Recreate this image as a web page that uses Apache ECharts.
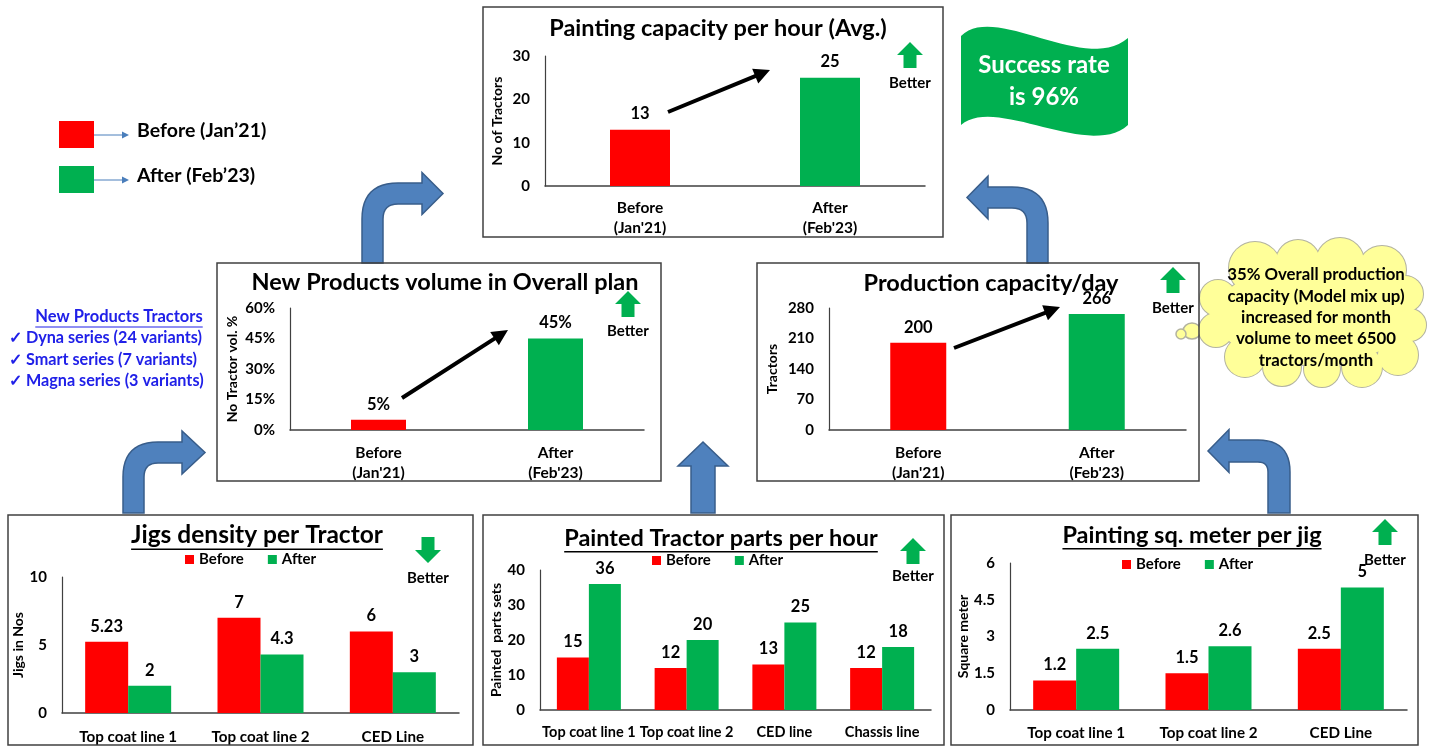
<!DOCTYPE html>
<html><head><meta charset="utf-8">
<script src="https://cdn.jsdelivr.net/npm/echarts@6/dist/echarts.min.js"></script>
<style>html,body{margin:0;padding:0;background:#fff}#c{width:1431px;height:747px}</style>
</head><body><div id="c"></div>
<script>
// ---------- data ----------
const periods = ["Before\n(Jan'21)", "After\n(Feb'23)"];
const paintingCapacity = [13, 25];
const newProductShare = [5, 45];
const productionCapacity = [200, 266];
const jigLines = ['Top coat line 1', 'Top coat line 2', 'CED Line'];
const jigBefore = [5.23, 7, 6];
const jigAfter = [2, 4.3, 3];
const partLines = ['Top coat line 1', 'Top coat line 2', 'CED line', 'Chassis line'];
const partsBefore = [15, 12, 13, 12];
const partsAfter = [36, 20, 25, 18];
const sqmLines = ['Top coat line 1', 'Top coat line 2', 'CED Line'];
const sqmBefore = [1.2, 1.5, 2.5];
const sqmAfter = [2.5, 2.6, 5];
const seriesNames = ['Before', 'After'];
const keyLabels = ['Before (Jan\u201921)', 'After (Feb\u201923)'];
const productTitle = 'New Products Tractors';
const productList = ['Dyna series (24 variants)', 'Smart series (7 variants)', 'Magna series (3 variants)'];
const cloudLines = ['35% Overall production', 'capacity (Model mix up)', 'increased for month', 'volume to meet 6500', 'tractors/month'];
const flagLines = ['Success rate', 'is 96%'];

// ---------- style ----------
const RED = '#ff0000', GREEN = '#00b050', INK = '#000000';
const FONT = 'Lato, "Open Sans", sans-serif';
const BLUE = '#4f81bd', BLUE_EDGE = '#385d8a';

const chart = echarts.init(document.getElementById('c'), null, {renderer: 'canvas'});

const grids = [
  {left: 545, top: 56, width: 380, height: 130},
  {left: 290, top: 308, width: 354, height: 122},
  {left: 829, top: 308, width: 357, height: 122},
  {left: 62, top: 577, width: 397, height: 140},
  {left: 540, top: 570, width: 391, height: 140},
  {left: 1010, top: 563, width: 397, height: 147}
];

function xAx(i, data, margin, size) {
  return {type: 'category', gridIndex: i, data,
    axisTick: {show: false},
    axisLine: {lineStyle: {color: '#404040', width: 1.5}},
    axisLabel: {interval: 0, margin, color: INK, fontFamily: FONT, fontWeight: 'bold', fontSize: size, lineHeight: 20}};
}
function yAx(i, max, interval, name, nameGap, fmt) {
  return {type: 'value', gridIndex: i, min: 0, max, interval,
    splitLine: {show: false}, axisTick: {show: false},
    axisLine: {show: true, lineStyle: {color: '#404040', width: 1.2}},
    axisLabel: {margin: 15, color: INK, fontFamily: FONT, fontWeight: 'bold', fontSize: 15, formatter: fmt || '{value}'},
    name, nameLocation: 'middle', nameRotate: 90, nameGap,
    nameTextStyle: {fontFamily: FONT, fontWeight: 'bold', fontSize: 14, color: INK}};
}
const labelStyle = (fmt) => ({show: true, position: 'top', distance: 7, color: INK, fontFamily: FONT, fontWeight: 'bold', fontSize: 16.5, formatter: fmt || '{c}'});

function pairSeries(i, name, values, barWidth, fmt) {
  return {type: 'bar', name, xAxisIndex: i, yAxisIndex: i, barWidth,
    data: values.map((v, k) => ({value: v, itemStyle: {color: k === 0 ? RED : GREEN}})),
    label: labelStyle(fmt)};
}
function groupSeries(i, before, after, barWidth) {
  return [
    {type: 'bar', name: seriesNames[0], xAxisIndex: i, yAxisIndex: i, barWidth, barGap: '0%', data: before, itemStyle: {color: RED}, label: labelStyle()},
    {type: 'bar', name: seriesNames[1], xAxisIndex: i, yAxisIndex: i, barWidth, barGap: '0%', data: after, itemStyle: {color: GREEN}, label: labelStyle()}
  ];
}

// ---------- graphic helpers ----------
const G = [];
function box(x, y, w, h) { G.push({type: 'rect', shape: {x, y, width: w, height: h}, style: {fill: 'none', stroke: '#404040', lineWidth: 1.5}, z: 10}); }
function text(x, y, t, size, opts) {
  opts = opts || {};
  G.push({type: 'text', x, y, z: 20, style: {text: t, fontFamily: FONT, fontWeight: opts.weight || 'bold', fontSize: size,
    fill: opts.fill || INK, align: opts.align || 'center', verticalAlign: 'middle'}});
}
const mctx = document.createElement('canvas').getContext('2d');
function textWidth(t, size) { mctx.font = 'bold ' + size + 'px ' + FONT; return mctx.measureText(t).width; }
function underlinedTitle(cx, y, t, size) {
  text(cx, y, t, size);
  const w = textWidth(t, size);
  G.push({type: 'line', z: 20, shape: {x1: cx - w / 2, y1: y + size * 0.5 + 2, x2: cx + w / 2, y2: y + size * 0.5 + 2}, style: {stroke: INK, lineWidth: 1.5}});
}
function blackArrow(x1, y1, x2, y2) {
  const L = Math.hypot(x2 - x1, y2 - y1), dx = (x2 - x1) / L, dy = (y2 - y1) / L, nx = -dy, ny = dx;
  const w = 4, hl = 16, hw = 16;
  const bx = x2 - dx * hl, by = y2 - dy * hl;
  G.push({type: 'polygon', z: 20, shape: {points: [
    [x1 + nx * w / 2, y1 + ny * w / 2], [bx + nx * w / 2, by + ny * w / 2], [bx + nx * hw / 2, by + ny * hw / 2], [x2, y2],
    [bx - nx * hw / 2, by - ny * hw / 2], [bx - nx * w / 2, by - ny * w / 2], [x1 - nx * w / 2, y1 - ny * w / 2]]},
    style: {fill: '#000'}});
}
function betterArrow(cx, top, up) {
  const hw = 13, hh = 13, sw = 6.5, H = 26;
  let pts;
  if (up) pts = [[cx, top], [cx + hw, top + hh], [cx + sw, top + hh], [cx + sw, top + H], [cx - sw, top + H], [cx - sw, top + hh], [cx - hw, top + hh]];
  else pts = [[cx, top + H], [cx + hw, top + H - hh], [cx + sw, top + H - hh], [cx + sw, top], [cx - sw, top], [cx - sw, top + H - hh], [cx - hw, top + H - hh]];
  G.push({type: 'polygon', z: 20, shape: {points: pts}, style: {fill: GREEN}});
}
function quad(p0, p1, p2, n) {
  const out = [];
  for (let i = 1; i <= n; i++) { const t = i / n, u = 1 - t;
    out.push([u * u * p0[0] + 2 * u * t * p1[0] + t * t * p2[0], u * u * p0[1] + 2 * u * t * p1[1] + t * t * p2[1]]); }
  return out;
}
function cubic(p0, p1, p2, p3, n) {
  const out = [];
  for (let i = 1; i <= n; i++) { const t = i / n, u = 1 - t;
    out.push([u * u * u * p0[0] + 3 * u * u * t * p1[0] + 3 * u * t * t * p2[0] + t * t * t * p3[0],
              u * u * u * p0[1] + 3 * u * u * t * p1[1] + 3 * u * t * t * p2[1] + t * t * t * p3[1]]); }
  return out;
}
function bentArrow(dir, sx, w, bot, by, R, hb, hh, tip) {
  const r = Math.max(R - w, 3), cy = by + w / 2, s = dir;
  const a = sx, b = sx + s * w;
  let pts = [[a, bot], [a, by + R]];
  pts = pts.concat(quad([a, by + R], [a, by], [a + s * R, by], 12));
  pts.push([hb, by], [hb, cy - hh], [tip, cy], [hb, cy + hh], [hb, by + w], [b + s * r, by + w]);
  pts = pts.concat(quad([b + s * r, by + w], [b, by + w], [b, by + w + r], 8));
  pts.push([b, bot]);
  G.push({type: 'polygon', z: 5, shape: {points: pts}, style: {fill: BLUE, stroke: BLUE_EDGE, lineWidth: 1.5}});
}

// panel frames
box(483, 7, 460, 230);
box(217, 263, 444, 218);
box(757, 263, 442, 218);
box(8, 515, 465, 230);
box(483, 515, 461, 230);
box(951, 515, 467, 230);

// titles
text(718, 28, 'Painting capacity per hour (Avg.)', 23.5);
text(445, 282, 'New Products volume in Overall plan', 23.5);
text(991, 283, 'Production capacity/day', 23.5);
underlinedTitle(257, 535, 'Jigs density per Tractor', 24.5);
underlinedTitle(721, 538, 'Painted Tractor parts per hour', 23.5);
underlinedTitle(1192, 535, 'Painting sq. meter per jig', 23.5);

// trend arrows
blackArrow(668, 112, 770, 70);
blackArrow(402, 398, 508, 330);
blackArrow(954, 348, 1060, 307);

// "Better" markers
[[910, 42, true, 83], [628, 291, true, 331], [1173, 267, true, 308], [428, 537, false, 578], [913, 538, true, 576], [1385, 519, true, 560]]
  .forEach(([cx, top, up, ty]) => { betterArrow(cx, top, up); text(cx, ty, 'Better', 15); });

// flow arrows
bentArrow(1, 362, 21, 263, 183, 36, 422, 21, 443);
bentArrow(-1, 1048, 21, 263, 187, 36, 988, 21.5, 967);
bentArrow(1, 123, 21, 513, 442, 35, 182, 21.5, 205);
bentArrow(-1, 1290, 22, 513, 440, 32, 1229, 21.5, 1208);
G.push({type: 'polygon', z: 5, shape: {points: [[703, 442], [728, 466], [715, 466], [715, 513], [691, 513], [691, 466], [678, 466]]}, style: {fill: BLUE, stroke: BLUE_EDGE, lineWidth: 1.5}});

// key (top-left)
[[RED, 121, 135], [GREEN, 166, 180]].forEach(([c, y, ly], k) => {
  G.push({type: 'rect', z: 20, shape: {x: 59, y, width: 35, height: 27}, style: {fill: c}});
  G.push({type: 'line', z: 20, shape: {x1: 94, y1: ly, x2: 124, y2: ly}, style: {stroke: '#4a7ebb', lineWidth: 1}});
  G.push({type: 'polygon', z: 20, shape: {points: [[129, ly], [122, ly - 3.5], [122, ly + 3.5]]}, style: {fill: '#4a7ebb'}});
  text(137, ly - 4, keyLabels[k], 19.5, {align: 'left'});
});

// product list
const PB = '#2020e8';
text(119, 317, productTitle, 16.5, {fill: PB});
(function () { const w = textWidth(productTitle, 16.5); G.push({type: 'line', z: 20, shape: {x1: 119 - w / 2, y1: 327, x2: 119 + w / 2, y2: 327}, style: {stroke: PB, lineWidth: 1.2}}); })();
productList.forEach((t, k) => text(9, 338 + k * 21.5, '\u2713 ' + t, 16.2, {fill: PB, align: 'left'}));

// flag
(function () {
  let pts = [[961, 36]];
  pts = pts.concat(cubic([961, 36], [995, 2], [1085, 75], [1128, 38], 30));
  pts.push([1128, 125]);
  pts = pts.concat(cubic([1128, 125], [1090, 160], [995, 95], [961, 125], 30));
  G.push({type: 'polygon', z: 5, shape: {points: pts}, style: {fill: GREEN}});
})();
text(1044, 65, flagLines[0], 24, {fill: '#fff'});
text(1044, 97, flagLines[1], 24, {fill: '#fff'});

// cloud
const puffs = [[1255, 268, 26], [1298, 262, 22], [1340, 262, 24], [1382, 270, 24], [1405, 294, 18], [1410, 325, 16], [1398, 355, 20], [1362, 367, 20], [1322, 369, 18], [1282, 367, 19], [1245, 357, 20], [1216, 330, 17], [1218, 298, 18]];
const CF = '#ffff99', CS = '#b3b3a0';
G.push({type: 'ellipse', z: 6, shape: {cx: 1312, cy: 315, rx: 97, ry: 50}, style: {fill: CF, stroke: CS, lineWidth: 2}});
puffs.forEach(([x, y, r]) => G.push({type: 'circle', z: 6, shape: {cx: x, cy: y, r}, style: {fill: CF, stroke: CS, lineWidth: 2}}));
G.push({type: 'ellipse', z: 7, shape: {cx: 1312, cy: 315, rx: 97, ry: 50}, style: {fill: CF}});
puffs.forEach(([x, y, r]) => G.push({type: 'circle', z: 7, shape: {cx: x, cy: y, r}, style: {fill: CF}}));
G.push({type: 'ellipse', z: 6, shape: {cx: 1192, cy: 331, rx: 9, ry: 8}, style: {fill: CF, stroke: CS, lineWidth: 1.5}});
G.push({type: 'ellipse', z: 6, shape: {cx: 1181, cy: 334, rx: 5, ry: 5}, style: {fill: CF, stroke: CS, lineWidth: 1.5}});
cloudLines.forEach((t, k) => text(1316, 275 + k * 21.3, t, 16.8));

// ---------- option ----------
const legendBase = {data: seriesNames, icon: 'rect', itemWidth: 9, itemHeight: 9, itemGap: 24, padding: 0, selectedMode: false,
  textStyle: {fontFamily: FONT, fontSize: 15, fontWeight: 'bold', color: INK}};

chart.setOption({
  animation: false,
  backgroundColor: '#fff',
  grid: grids,
  legend: [
    Object.assign({left: 185, top: 552}, legendBase),
    Object.assign({left: 652, top: 553}, legendBase),
    Object.assign({left: 1122, top: 557}, legendBase)
  ],
  xAxis: [xAx(0, periods, 12, 15.5), xAx(1, periods, 13, 15.5), xAx(2, periods, 13, 15.5), xAx(3, jigLines, 14, 15.2), xAx(4, partLines, 12, 14.5), xAx(5, sqmLines, 13, 15.2)],
  yAxis: [
    yAx(0, 30, 10, 'No of Tractors', 41),
    yAx(1, 60, 15, 'No Tractor vol. %', 51, '{value}%'),
    yAx(2, 280, 70, 'Tractors', 50),
    yAx(3, 10, 5, 'Jigs in Nos', 31),
    yAx(4, 40, 10, 'Painted  parts sets', 36),
    yAx(5, 6, 1.5, 'Square meter', 38)
  ],
  series: [
    pairSeries(0, 'Painting capacity', paintingCapacity, 60),
    pairSeries(1, 'New products share', newProductShare, 55, '{c}%'),
    pairSeries(2, 'Production capacity', productionCapacity, 56),
    ...groupSeries(3, jigBefore, jigAfter, 43),
    ...groupSeries(4, partsBefore, partsAfter, 32),
    ...groupSeries(5, sqmBefore, sqmAfter, 43)
  ],
  graphic: {elements: G}
});
</script></body></html>
